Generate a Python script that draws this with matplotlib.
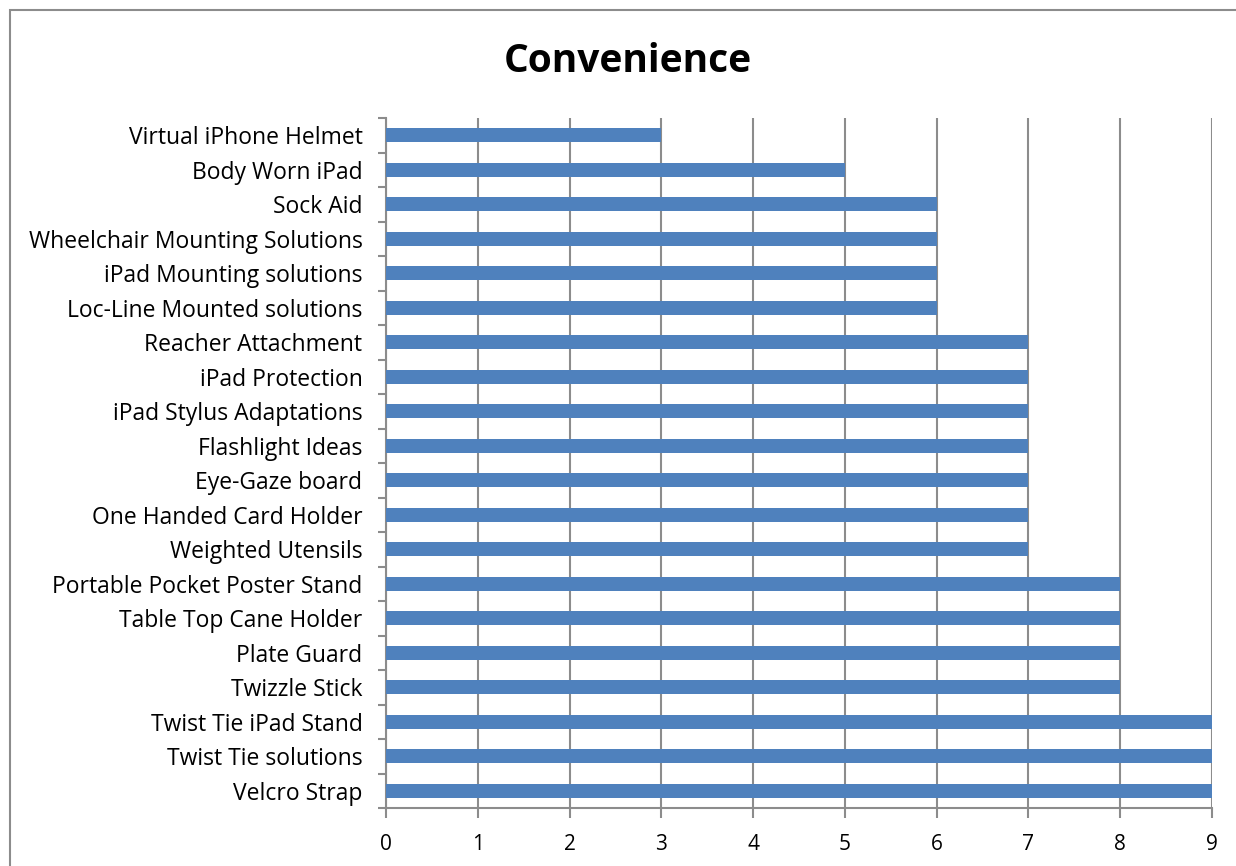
import numpy as np
import matplotlib.pyplot as plt
from matplotlib.patches import Rectangle

# data (bottom to top, as in the chart)
items = ['Velcro Strap', 'Twist Tie solutions', 'Twist Tie iPad Stand', 'Twizzle Stick',
         'Plate Guard', 'Table Top Cane Holder', 'Portable Pocket Poster Stand',
         'Weighted Utensils', 'One Handed Card Holder', 'Eye-Gaze board',
         'Flashlight Ideas', 'iPad Stylus Adaptations', 'iPad Protection',
         'Reacher Attachment', 'Loc-Line Mounted solutions', 'iPad Mounting solutions',
         'Wheelchair Mounting Solutions', 'Sock Aid', 'Body Worn iPad',
         'Virtual iPhone Helmet']
scores = [9, 9, 9, 8, 8, 8, 8, 7, 7, 7, 7, 7, 7, 7, 6, 6, 6, 6, 5, 3]
xticks = list(range(0, 10))

plt.rcParams['font.family'] = ['Open Sans', 'DejaVu Sans']

fig = plt.figure(figsize=(12.36, 8.66), dpi=100)
ax = fig.add_axes([386/1236, 1-808/866, (1212-386)/1236, (808-118)/866])

# chart frame (runs off right and bottom like the screenshot)
fig.patches.append(Rectangle((10/1236, -0.05), 1.1, 1-10/866+0.05,
                             transform=fig.transFigure, fill=False,
                             edgecolor='#8c8c8c', linewidth=1.5))

pos = np.arange(len(items))
ax.barh(pos, scores, height=0.42, color='#4F81BD', zorder=3)

ax.set_xlim(0, 9)
ax.set_ylim(-0.5, len(items)-0.5)
ax.set_xticks(xticks)
ax.set_xticklabels([str(t) for t in xticks], fontsize=15)
ax.set_yticks(pos)
ax.set_yticklabels(items, fontsize=16.5)
ax.set_yticks(np.arange(-0.5, len(items)), minor=True)

ax.grid(axis='x', color='#8c8c8c', linewidth=1.5, zorder=0)
for s in ['top', 'right']:
    ax.spines[s].set_visible(False)
for s in ['left', 'bottom']:
    ax.spines[s].set_color('#8c8c8c')
    ax.spines[s].set_linewidth(1.5)

ax.tick_params(axis='y', which='major', length=0, pad=17)
ax.tick_params(axis='y', which='minor', length=6, width=1.5, color='#8c8c8c')
ax.tick_params(axis='x', length=7, width=1.5, color='#8c8c8c', pad=12)

fig.text(628/1236, 1-61/866, 'Convenience', ha='center', va='center',
         fontsize=28, fontweight='bold')

fig.savefig('out.png', dpi=100)
